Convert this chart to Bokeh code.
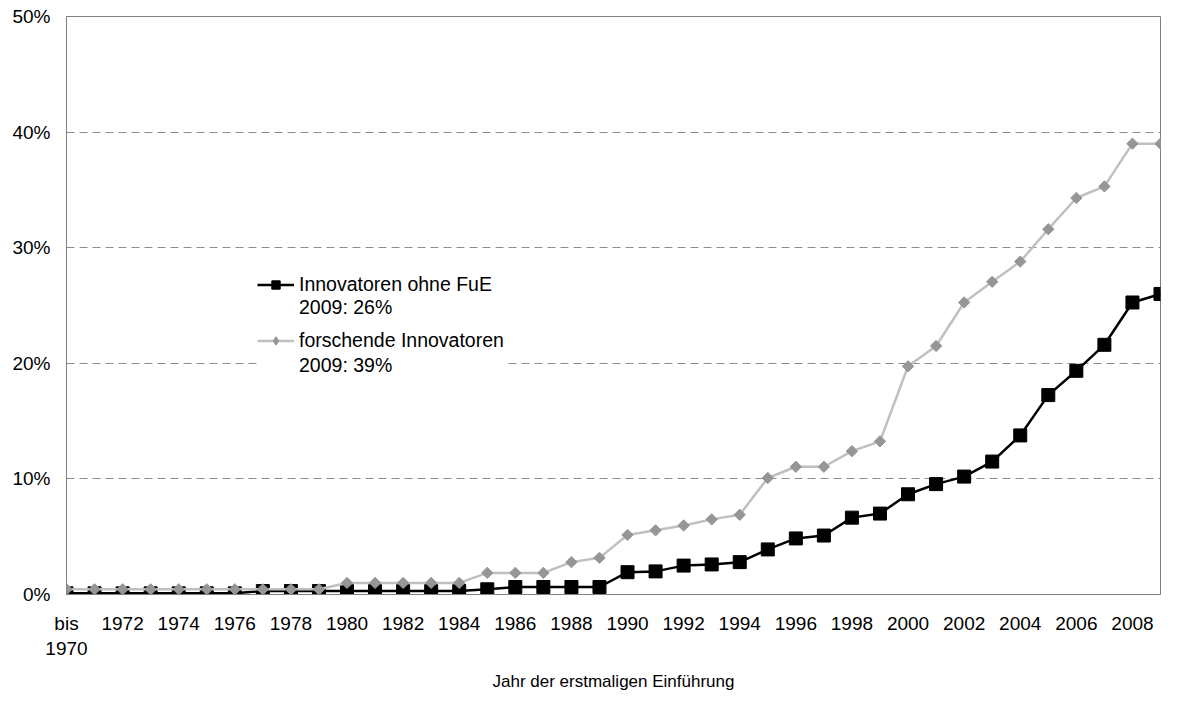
from bokeh.plotting import figure
from bokeh.models import Legend, LegendItem, FixedTicker, Range1d
from bokeh.embed import file_html
from bokeh.resources import INLINE

years = [1970, 1971, 1972, 1973, 1974, 1975, 1976, 1977, 1978, 1979,
         1980, 1981, 1982, 1983, 1984, 1985, 1986, 1987, 1988, 1989,
         1990, 1991, 1992, 1993, 1994, 1995, 1996, 1997, 1998, 1999,
         2000, 2001, 2002, 2003, 2004, 2005, 2006, 2007, 2008, 2009]

ohne_fue = [0.1, 0.1, 0.1, 0.1, 0.1, 0.1, 0.1, 0.3, 0.3, 0.3,
            0.3, 0.3, 0.3, 0.3, 0.3, 0.45, 0.65, 0.65, 0.65, 0.65,
            1.93, 2.0, 2.5, 2.6, 2.8, 3.9, 4.85, 5.1, 6.65, 7.0,
            8.67, 9.55, 10.2, 11.5, 13.76, 17.25, 19.35, 21.6, 25.26, 26.0]

forschende = [0.45, 0.45, 0.45, 0.45, 0.45, 0.45, 0.45, 0.45, 0.45, 0.45,
              1.0, 1.0, 1.0, 1.0, 1.0, 1.87, 1.87, 1.87, 2.8, 3.17,
              5.15, 5.55, 5.97, 6.5, 6.9, 10.08, 11.05, 11.05, 12.4, 13.25,
              19.74, 21.5, 25.26, 27.05, 28.8, 31.6, 34.3, 35.3, 39.0, 39.0]

x_tick_years = [1970, 1972, 1974, 1976, 1978, 1980, 1982, 1984, 1986, 1988,
                1990, 1992, 1994, 1996, 1998, 2000, 2002, 2004, 2006, 2008]
x_tick_labels = ["bis\n1970", "1972", "1974", "1976", "1978", "1980", "1982", "1984",
                 "1986", "1988", "1990", "1992", "1994", "1996", "1998", "2000",
                 "2002", "2004", "2006", "2008"]

y_ticks = [0, 10, 20, 30, 40, 50]
y_tick_labels = ["0%", "10%", "20%", "30%", "40%", "50%"]

label_ohne = ["Innovatoren ohne FuE", "2009: 26%"]
label_forschend = ["forschende Innovatoren", "2009: 39%"]
x_title = "Jahr der erstmaligen Einführung"

FONT = "Liberation Sans"
NAN = float("nan")

p = figure(width=1162, height=693, output_backend="svg", toolbar_location=None,
           x_range=Range1d(1970, 2009), y_range=Range1d(0, 50),
           min_border_left=66, min_border_right=2, min_border_top=16,
           min_border_bottom=96)

p.background_fill_color = "white"
p.border_fill_color = "white"
p.outline_line_color = "#808080"
p.outline_line_width = 1

# black series
l1 = p.line(years, ohne_fue, line_color="black", line_width=2.5)
s1 = p.scatter(years, ohne_fue, marker="square", size=13, fill_color="black",
               line_color="black")
# grey series (drawn on top)
l2 = p.line(years, forschende, line_color="#c0c0c0", line_width=2.5)
s2 = p.scatter(years, forschende, marker="square", angle=0.785398, size=8,
               fill_color="#969696", line_color="#969696")

# legend-only glyph proxies (no visible data)
k1 = p.scatter(x=[NAN], y=[NAN], marker="square", size=10, fill_color="black",
               line_color="black")
k2 = p.scatter(x=[NAN], y=[NAN], marker="diamond", size=12, fill_color="#969696",
               line_color="#969696")
blank = p.line(x=[NAN], y=[NAN], line_alpha=0)


def make_legend(items, loc, spacing):
    lg = Legend(items=items, location=loc)
    lg.background_fill_color = "white"
    lg.background_fill_alpha = 1.0
    lg.border_line_color = None
    lg.label_text_font = FONT
    lg.label_text_font_size = "19.5px"
    lg.label_text_color = "black"
    lg.glyph_width = 37
    lg.glyph_height = 21
    lg.label_height = 21
    lg.label_standoff = 5
    lg.padding = 10
    lg.spacing = spacing
    lg.margin = 0
    return lg


legend_a = make_legend([LegendItem(label=label_ohne[0], renderers=[l1, k1]),
                        LegendItem(label=label_ohne[1], renderers=[blank])],
                       (191, 275), 0)
legend_b = make_legend([LegendItem(label=label_forschend[0], renderers=[l2, k2]),
                        LegendItem(label=label_forschend[1], renderers=[blank])],
                       (191, 217), 2)
p.add_layout(legend_a, "center")
p.add_layout(legend_b, "center")

# x axis
xa = p.xaxis[0]
xa.ticker = FixedTicker(ticks=x_tick_years)
xa.major_label_overrides = {y: l for y, l in zip(x_tick_years, x_tick_labels)}
xa.major_tick_line_color = None
xa.minor_tick_line_color = None
xa.major_tick_out = 0
xa.major_tick_in = 0
xa.axis_line_color = "#808080"
xa.major_label_text_font = FONT
xa.major_label_text_font_size = "19px"
xa.major_label_text_color = "black"
xa.major_label_standoff = 18
xa.axis_label = x_title
xa.axis_label_text_font = FONT
xa.axis_label_text_font_size = "17px"
xa.axis_label_text_font_style = "normal"
xa.axis_label_text_color = "black"
xa.axis_label_standoff = 10

# y axis
ya = p.yaxis[0]
ya.ticker = FixedTicker(ticks=y_ticks)
ya.major_label_overrides = {t: l for t, l in zip(y_ticks, y_tick_labels)}
ya.major_tick_line_color = None
ya.minor_tick_line_color = None
ya.major_tick_out = 0
ya.major_tick_in = 0
ya.axis_line_color = "#808080"
ya.major_label_text_font = FONT
ya.major_label_text_font_size = "19px"
ya.major_label_text_color = "black"
ya.major_label_standoff = 16

p.xgrid.grid_line_color = None
p.ygrid.grid_line_color = "#8c8c8c"
p.ygrid.grid_line_dash = "8 5"
p.ygrid.grid_line_width = 1

open("out.html", "w").write(file_html(p, INLINE))
